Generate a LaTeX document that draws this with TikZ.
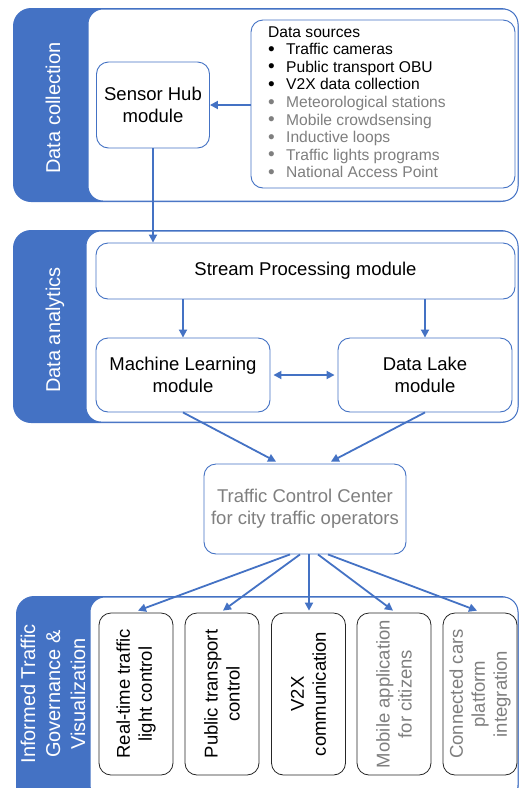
\documentclass[tikz,border=0pt]{standalone}
\usepackage{fontspec}
\setmainfont{Liberation Sans}
\usetikzlibrary{arrows.meta,calc}
\definecolor{myblue}{HTML}{4472C4}
\definecolor{mygray}{HTML}{7F7F7F}
\newcommand{\dsbul}{\makebox[18pt][l]{\raisebox{-0.6pt}{\fontsize{19}{17.5}\selectfont •}}}
\begin{document}
\begin{tikzpicture}[x=1pt,y=-1pt,
  modbox/.style={draw=myblue, line width=0.9pt, fill=white, rounded corners=12pt, align=center, inner sep=0pt, font=\fontsize{18.5}{22}\selectfont},
  outbox/.style={draw=black!85, line width=0.8pt, fill=white, rounded corners=12pt, rotate=90, minimum width=162pt, minimum height=74pt, align=center, inner sep=0pt, font=\fontsize{18.5}{22}\selectfont},
  lbl/.style={rotate=90, text=white, font=\fontsize{20}{25}\selectfont, inner sep=0pt},
  conn/.style={draw=myblue, line width=1.8pt, -{Triangle[length=8pt,width=8pt]}},
  dsl/.style={anchor=base west, inner sep=0pt, font=\fontsize{15.6}{17.5}\selectfont},
  panelbg/.style={fill=myblue, rounded corners=18pt},
  panelfg/.style={draw=myblue, line width=1pt, fill=white, rounded corners=15pt},
]
\useasboundingbox (0,0) rectangle (520,788);
\clip (0,0) rectangle (520,788);

% panels
\fill[panelbg] (13,8) rectangle (518.5,202);
\draw[panelfg] (88,9) rectangle (518,201);
\fill[panelbg] (13,230) rectangle (518.5,423);
\draw[panelfg] (86,231) rectangle (518,422);
\fill[panelbg] (16,596) rectangle (518.5,805);
\draw[panelfg] (90,597) rectangle (518,800);

% panel labels
\node[lbl, anchor=base] (l1) at (60,108) {Data collection};
\node[lbl, anchor=base] (l2) at (60,330) {Data analytics};
\node[lbl, align=center] (l3) at (53,694) {Informed Traffic\\Governance \&\\Visualization};

% data collection
\node[modbox, minimum width=113pt, minimum height=86pt] (sh) at (153,105) {Sensor Hub\\module};
\node[modbox, minimum width=264pt, minimum height=168pt] (ds) at (383,104) {};
\node[dsl] (ds0) at (268,37) {Data sources};
\node[dsl] (ds1) at (268,54.6) {\dsbul Traffic cameras};
\node[dsl] (ds2) at (268,72.2) {\dsbul Public transport OBU};
\node[dsl] (ds3) at (268,89.8) {\dsbul V2X data collection};
\node[dsl, text=mygray] (ds4) at (268,107.4) {\dsbul Meteorological stations};
\node[dsl, text=mygray] (ds5) at (268,125) {\dsbul Mobile crowdsensing};
\node[dsl, text=mygray] (ds6) at (268,142.6) {\dsbul Inductive loops};
\node[dsl, text=mygray] (ds7) at (268,160.2) {\dsbul Traffic lights programs};
\node[dsl, text=mygray] (ds8) at (268,177.8) {\dsbul National Access Point};

% data analytics
\node[modbox, minimum width=419pt, minimum height=56pt] (sp) at (305.5,271) {Stream Processing module};
\node[modbox, minimum width=174pt, minimum height=74pt] (ml) at (183,375) {Machine Learning\\module};
\node[modbox, minimum width=174pt, minimum height=74pt] (dl) at (425,375) {Data Lake\\module};

% traffic control center
\node[modbox, minimum width=202pt, minimum height=90pt, text=mygray] (tcc) at (305,509) {Traffic Control Center\\for city traffic operators};

% outputs
\node[outbox] (b1) at (136,694) {Real-time traffic\\light control};
\node[outbox] (b2) at (222,694) {Public transport\\control};
\node[outbox] (b3) at (308.5,694) {V2X\\communication};
\node[outbox, text=mygray] (b4) at (394,694) {Mobile application\\for citizens};
\node[outbox, text=mygray] (b5) at (480,694) {Connected cars\\platform\\integration};

% connectors
\draw[conn] (ds.west |- sh.east) -- (sh.east);
\draw[conn] (sh.south) -- (sh.south |- sp.north);
\draw[conn] (ml.north |- sp.south) -- (ml.north);
\draw[conn] (dl.north |- sp.south) -- (dl.north);
\draw[draw=myblue, line width=1.8pt, {Triangle[length=8pt,width=8pt]}-{Triangle[length=8pt,width=8pt]}, shorten <=3pt, shorten >=3pt] (ml.east) -- (dl.west);
\draw[conn] (ml.south) -- ([xshift=-29pt,yshift=2pt]tcc.north);
\draw[conn] (dl.south) -- ([xshift=26pt,yshift=2pt]tcc.north);
\draw[conn] ([xshift=-15pt]tcc.south) -- ([xshift=2pt,yshift=2pt]b1.east);
\draw[conn] ([xshift=-5pt]tcc.south) -- ([xshift=1pt,yshift=2pt]b2.east);
\draw[conn] ([xshift=4pt]tcc.south) -- ([xshift=0.5pt,yshift=2pt]b3.east);
\draw[conn] ([xshift=13pt]tcc.south) -- ([xshift=-1pt,yshift=2pt]b4.east);
\draw[conn] ([xshift=23pt]tcc.south) -- ([xshift=-3pt,yshift=2pt]b5.east);
\end{tikzpicture}
\end{document}
